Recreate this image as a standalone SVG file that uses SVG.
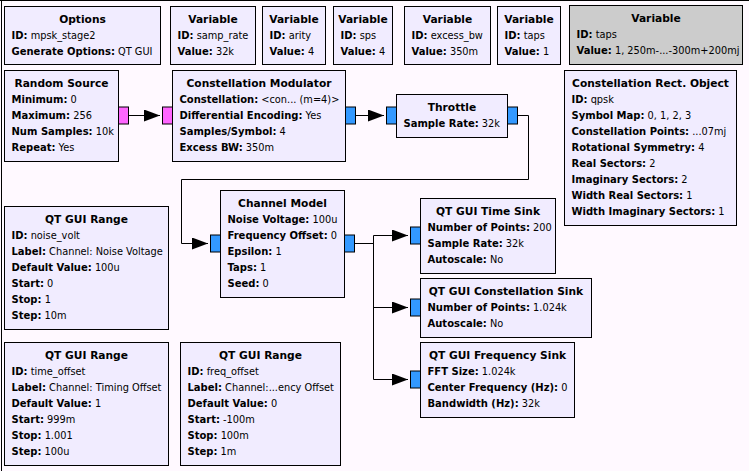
<svg xmlns="http://www.w3.org/2000/svg" width="749" height="471" viewBox="0 0 749 471">
<defs>
<style>
.blk{fill:#F1ECFF;stroke:#000;stroke-width:1}
.dis{fill:#CCCCCC;stroke:#000;stroke-width:1}
.pc{fill:#3399FF;stroke:#000;stroke-width:1}
.pb{fill:#FF66FF;stroke:#000;stroke-width:1}
text{font-family:"DejaVu Sans","Liberation Sans",sans-serif;font-size:10px;fill:#000}
tspan{font-size:9.8px}
.t{font-weight:bold;text-anchor:middle;font-size:10.67px}
tspan.b{font-weight:bold;font-size:10px}
.cn{fill:none;stroke:#000;stroke-width:1;marker-end:url(#ah)}
</style>
<marker id="ah" viewBox="0 0 16 12" refX="16" refY="6" markerWidth="16" markerHeight="12" markerUnits="userSpaceOnUse" orient="auto">
<path d="M0,0 L16,6 L0,12 Z" fill="#000"/>
</marker>
</defs>
<rect x="0" y="0" width="749" height="471" fill="#FFF9FF"/>
<path d="M0,0.5 H749 M1.5,0 V471" stroke="#000" stroke-width="1" fill="none"/>

<g id="connectors">
<path class="cn" d="M128.5,115.5 H160"/>
<path class="cn" d="M355.5,115.5 H384"/>
<path class="cn" d="M517.5,115.5 H528.5 V179.5 H181.5 V243.5 H208"/>
<path class="cn" d="M354.5,243.5 H373.5 V235.5 H408"/>
<path class="cn" d="M354.5,243.5 H373.5 V307.5 H408"/>
<path class="cn" d="M354.5,243.5 H373.5 V379.5 H408"/>
</g>

<g id="options">
<rect class="blk" x="4.5" y="6.5" width="156" height="58"/>
<text class="t" x="82.5" y="22.5">Options</text>
<text x="11.5" y="38.5"><tspan class="b">ID:</tspan><tspan> mpsk_stage2</tspan></text>
<text x="11.5" y="54.5"><tspan class="b">Generate Options:</tspan><tspan> QT GUI</tspan></text>
</g>

<g id="var_samp_rate">
<rect class="blk" x="170.5" y="6.5" width="85" height="58"/>
<text class="t" x="213" y="22.5">Variable</text>
<text x="177.5" y="38.5"><tspan class="b">ID:</tspan><tspan> samp_rate</tspan></text>
<text x="177.5" y="54.5"><tspan class="b">Value:</tspan><tspan> 32k</tspan></text>
</g>

<g id="var_arity">
<rect class="blk" x="262.5" y="6.5" width="63" height="58"/>
<text class="t" x="294" y="22.5">Variable</text>
<text x="269.5" y="38.5"><tspan class="b">ID:</tspan><tspan> arity</tspan></text>
<text x="269.5" y="54.5"><tspan class="b">Value:</tspan><tspan> 4</tspan></text>
</g>

<g id="var_sps">
<rect class="blk" x="333.5" y="6.5" width="59" height="58"/>
<text class="t" x="363" y="22.5">Variable</text>
<text x="340.5" y="38.5"><tspan class="b">ID:</tspan><tspan> sps</tspan></text>
<text x="340.5" y="54.5"><tspan class="b">Value:</tspan><tspan> 4</tspan></text>
</g>

<g id="var_excess_bw">
<rect class="blk" x="404.5" y="6.5" width="86" height="58"/>
<text class="t" x="447.5" y="22.5">Variable</text>
<text x="411.5" y="38.5"><tspan class="b">ID:</tspan><tspan> excess_bw</tspan></text>
<text x="411.5" y="54.5"><tspan class="b">Value:</tspan><tspan> 350m</tspan></text>
</g>

<g id="var_taps">
<rect class="blk" x="497.5" y="6.5" width="63" height="58"/>
<text class="t" x="529" y="22.5">Variable</text>
<text x="504.5" y="38.5"><tspan class="b">ID:</tspan><tspan> taps</tspan></text>
<text x="504.5" y="54.5"><tspan class="b">Value:</tspan><tspan> 1</tspan></text>
</g>

<g id="var_taps_disabled">
<rect class="dis" x="569.5" y="5.5" width="173" height="59"/>
<text class="t" x="656" y="21.5">Variable</text>
<text x="576.5" y="37.5"><tspan class="b">ID:</tspan><tspan> taps</tspan></text>
<text x="576.5" y="53.5"><tspan class="b">Value:</tspan><tspan> 1, 250m-...-300m+200mj</tspan></text>
</g>

<g id="random_source">
<rect class="blk" x="4.5" y="70.5" width="114" height="91"/>
<rect class="pb" x="118.5" y="107" width="10" height="17"/>
<text class="t" x="61.5" y="86.5">Random Source</text>
<text x="11.5" y="102.5"><tspan class="b">Minimum:</tspan><tspan> 0</tspan></text>
<text x="11.5" y="118.5"><tspan class="b">Maximum:</tspan><tspan> 256</tspan></text>
<text x="11.5" y="134.5"><tspan class="b">Num Samples:</tspan><tspan> 10k</tspan></text>
<text x="11.5" y="150.5"><tspan class="b">Repeat:</tspan><tspan> Yes</tspan></text>
</g>

<g id="constellation_modulator">
<rect class="blk" x="172.5" y="70.5" width="173" height="91"/>
<rect class="pb" x="162.5" y="107" width="10" height="17"/>
<rect class="pc" x="345.5" y="107" width="10" height="17"/>
<text class="t" x="259" y="86.5">Constellation Modulator</text>
<text x="179.5" y="102.5"><tspan class="b">Constellation:</tspan><tspan> &lt;con... (m=4)&gt;</tspan></text>
<text x="179.5" y="118.5"><tspan class="b">Differential Encoding:</tspan><tspan> Yes</tspan></text>
<text x="179.5" y="134.5"><tspan class="b">Samples/Symbol:</tspan><tspan> 4</tspan></text>
<text x="179.5" y="150.5"><tspan class="b">Excess BW:</tspan><tspan> 350m</tspan></text>
</g>

<g id="throttle">
<rect class="blk" x="396.5" y="94.5" width="111" height="43"/>
<rect class="pc" x="386.5" y="107" width="10" height="17"/>
<rect class="pc" x="507.5" y="107" width="10" height="17"/>
<text class="t" x="452" y="110.5">Throttle</text>
<text x="403.5" y="126.5"><tspan class="b">Sample Rate:</tspan><tspan> 32k</tspan></text>
</g>

<g id="constellation_rect">
<rect class="blk" x="564.5" y="70.5" width="172" height="155"/>
<text class="t" x="650.5" y="86.5">Constellation Rect. Object</text>
<text x="571.5" y="102.5"><tspan class="b">ID:</tspan><tspan> qpsk</tspan></text>
<text x="571.5" y="118.5"><tspan class="b">Symbol Map:</tspan><tspan> 0, 1, 2, 3</tspan></text>
<text x="571.5" y="134.5"><tspan class="b">Constellation Points:</tspan><tspan> ...07mj</tspan></text>
<text x="571.5" y="150.5"><tspan class="b">Rotational Symmetry:</tspan><tspan> 4</tspan></text>
<text x="571.5" y="166.5"><tspan class="b">Real Sectors:</tspan><tspan> 2</tspan></text>
<text x="571.5" y="182.5"><tspan class="b">Imaginary Sectors:</tspan><tspan> 2</tspan></text>
<text x="571.5" y="198.5"><tspan class="b">Width Real Sectors:</tspan><tspan> 1</tspan></text>
<text x="571.5" y="214.5"><tspan class="b">Width Imaginary Sectors:</tspan><tspan> 1</tspan></text>
</g>

<g id="channel_model">
<rect class="blk" x="220.5" y="190.5" width="124" height="107"/>
<rect class="pc" x="210.5" y="235" width="10" height="17"/>
<rect class="pc" x="344.5" y="235" width="10" height="17"/>
<text class="t" x="282.5" y="206.5">Channel Model</text>
<text x="227.5" y="222.5"><tspan class="b">Noise Voltage:</tspan><tspan> 100u</tspan></text>
<text x="227.5" y="238.5"><tspan class="b">Frequency Offset:</tspan><tspan> 0</tspan></text>
<text x="227.5" y="254.5"><tspan class="b">Epsilon:</tspan><tspan> 1</tspan></text>
<text x="227.5" y="270.5"><tspan class="b">Taps:</tspan><tspan> 1</tspan></text>
<text x="227.5" y="286.5"><tspan class="b">Seed:</tspan><tspan> 0</tspan></text>
</g>

<g id="range_noise_volt">
<rect class="blk" x="4.5" y="206.5" width="164" height="123"/>
<text class="t" x="86.5" y="222.5">QT GUI Range</text>
<text x="11.5" y="238.5"><tspan class="b">ID:</tspan><tspan> noise_volt</tspan></text>
<text x="11.5" y="254.5"><tspan class="b">Label:</tspan><tspan> Channel: Noise Voltage</tspan></text>
<text x="11.5" y="270.5"><tspan class="b">Default Value:</tspan><tspan> 100u</tspan></text>
<text x="11.5" y="286.5"><tspan class="b">Start:</tspan><tspan> 0</tspan></text>
<text x="11.5" y="302.5"><tspan class="b">Stop:</tspan><tspan> 1</tspan></text>
<text x="11.5" y="318.5"><tspan class="b">Step:</tspan><tspan> 10m</tspan></text>
</g>

<g id="range_time_offset">
<rect class="blk" x="4.5" y="342.5" width="164" height="123"/>
<text class="t" x="86.5" y="358.5">QT GUI Range</text>
<text x="11.5" y="374.5"><tspan class="b">ID:</tspan><tspan> time_offset</tspan></text>
<text x="11.5" y="390.5"><tspan class="b">Label:</tspan><tspan> Channel: Timing Offset</tspan></text>
<text x="11.5" y="406.5"><tspan class="b">Default Value:</tspan><tspan> 1</tspan></text>
<text x="11.5" y="422.5"><tspan class="b">Start:</tspan><tspan> 999m</tspan></text>
<text x="11.5" y="438.5"><tspan class="b">Stop:</tspan><tspan> 1.001</tspan></text>
<text x="11.5" y="454.5"><tspan class="b">Step:</tspan><tspan> 100u</tspan></text>
</g>

<g id="range_freq_offset">
<rect class="blk" x="180.5" y="342.5" width="160" height="123"/>
<text class="t" x="260.5" y="358.5">QT GUI Range</text>
<text x="187.5" y="374.5"><tspan class="b">ID:</tspan><tspan> freq_offset</tspan></text>
<text x="187.5" y="390.5"><tspan class="b">Label:</tspan><tspan> Channel:...ency Offset</tspan></text>
<text x="187.5" y="406.5"><tspan class="b">Default Value:</tspan><tspan> 0</tspan></text>
<text x="187.5" y="422.5"><tspan class="b">Start:</tspan><tspan> -100m</tspan></text>
<text x="187.5" y="438.5"><tspan class="b">Stop:</tspan><tspan> 100m</tspan></text>
<text x="187.5" y="454.5"><tspan class="b">Step:</tspan><tspan> 1m</tspan></text>
</g>

<g id="time_sink">
<rect class="blk" x="420.5" y="198.5" width="135" height="75"/>
<rect class="pc" x="410.5" y="227" width="10" height="17"/>
<text class="t" x="488" y="214.5">QT GUI Time Sink</text>
<text x="427.5" y="230.5"><tspan class="b">Number of Points:</tspan><tspan> 200</tspan></text>
<text x="427.5" y="246.5"><tspan class="b">Sample Rate:</tspan><tspan> 32k</tspan></text>
<text x="427.5" y="262.5"><tspan class="b">Autoscale:</tspan><tspan> No</tspan></text>
</g>

<g id="constellation_sink">
<rect class="blk" x="420.5" y="278.5" width="171" height="59"/>
<rect class="pc" x="410.5" y="299" width="10" height="17"/>
<text class="t" x="506" y="294.5">QT GUI Constellation Sink</text>
<text x="427.5" y="310.5"><tspan class="b">Number of Points:</tspan><tspan> 1.024k</tspan></text>
<text x="427.5" y="326.5"><tspan class="b">Autoscale:</tspan><tspan> No</tspan></text>
</g>

<g id="freq_sink">
<rect class="blk" x="420.5" y="342.5" width="154" height="75"/>
<rect class="pc" x="410.5" y="371" width="10" height="17"/>
<text class="t" x="497.5" y="358.5">QT GUI Frequency Sink</text>
<text x="427.5" y="374.5"><tspan class="b">FFT Size:</tspan><tspan> 1.024k</tspan></text>
<text x="427.5" y="390.5"><tspan class="b">Center Frequency (Hz):</tspan><tspan> 0</tspan></text>
<text x="427.5" y="406.5"><tspan class="b">Bandwidth (Hz):</tspan><tspan> 32k</tspan></text>
</g>
</svg>
